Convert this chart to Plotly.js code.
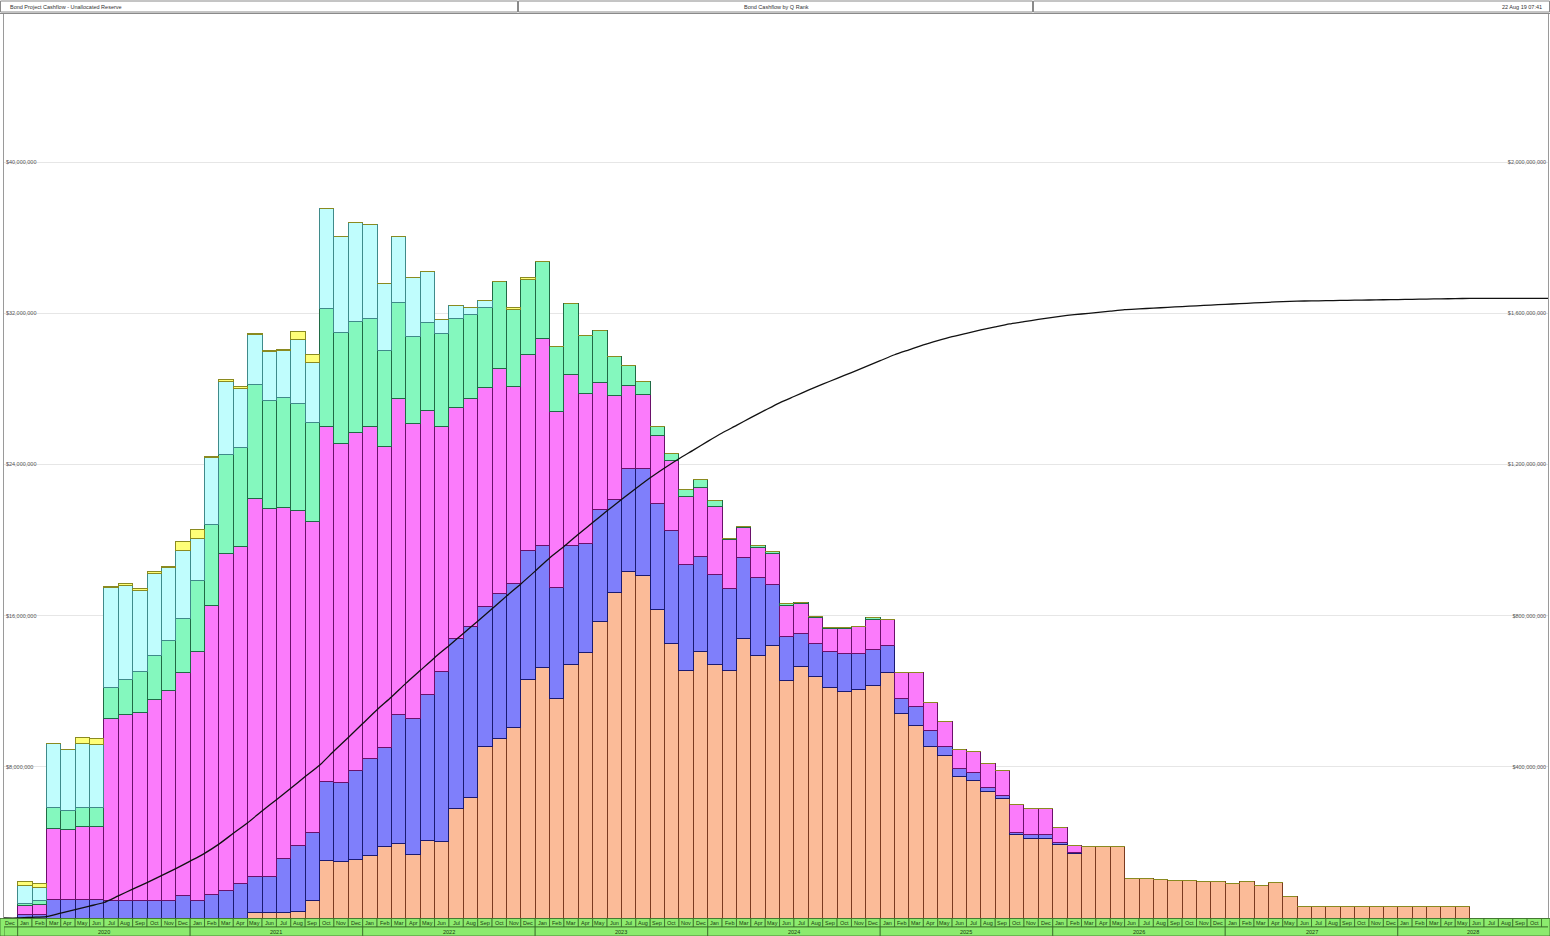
<!DOCTYPE html>
<html><head><meta charset="utf-8">
<script src="https://cdn.plot.ly/plotly-3.0.1.min.js"></script>
<style>html,body{margin:0;padding:0;background:#fff;overflow:hidden}#chart{width:1550px;height:936px;}</style>
</head><body><div id="chart"></div>
<script>
// Months: Dec 2019 (index 0) ... Nov 2028 (index 107)
const MONTH_ABBR = ["Jan","Feb","Mar","Apr","May","Jun","Jul","Aug","Sep","Oct","Nov","Dec"];
const YEARS = ["2019","2020","2021","2022","2023","2024","2025","2026","2027","2028"];
const FIRST_MONTH = 11; // Dec
const N_MONTHS = 108;

// Series values in $ millions per month (stack order bottom -> top)
const peach = [0,0,0,0,0,0,0,0,0,0,0,0,0,
 0,0,0,0,0.27,0.27,0.29,0.34,0.9,3.06,2.99,3.09,
 3.3,3.79,3.94,3.38,4.1,4.06,5.8,6.4,9.07,9.5,10.1,12.6,
 13.26,11.6,13.4,14.05,15.7,17.2,18.35,18.1,16.3,14.55,13.08,14.1,
 13.4,13.08,14.8,13.9,14.4,12.56,13.3,12.8,12.2,12.0,12.1,12.3,
 13.0,10.8,10.2,9.1,8.6,7.5,7.3,6.7,6.3,4.4,4.2,4.2,
 3.9,3.4,3.8,3.8,3.8,2.1,2.1,2.05,2.0,2.0,1.95,1.95,
 1.85,1.95,1.7,1.9,1.15,0.6,0.6,0.6,0.6,0.6,0.6,0.6,
 0.6,0.6,0.6,0.6,0.6,0,0,0,0,0,0];
const blue = [0,0.2,0.2,0.99,0.99,0.99,0.99,0.95,0.95,0.95,0.95,0.95,1.19,
 0.9,1.26,1.48,1.85,1.94,1.9,2.84,3.5,3.6,4.15,4.2,4.69,
 5.13,5.25,6.85,7.2,7.73,8.97,9.0,9.0,7.4,7.65,7.58,6.83,
 6.43,5.88,6.33,5.77,5.9,4.95,5.43,5.66,5.61,5.93,5.61,5.02,
 4.75,4.34,4.3,4.14,3.24,2.33,1.76,1.7,1.9,2.0,1.9,1.9,
 1.4,0.8,1.0,0.8,0.5,0.4,0.4,0.2,0.2,0.1,0.2,0.2,
 0.1,0.05,0,0,0,0,0,0,0,0,0,0,
 0,0,0,0,0,0,0,0,0,0,0,0,
 0,0,0,0,0,0,0,0,0,0,0];
const magenta = [0,0.48,0.53,3.76,3.67,3.84,3.84,9.6,9.8,9.9,10.6,11.1,11.8,
 13.2,15.3,17.8,17.8,20.0,19.5,18.6,17.7,16.5,18.8,17.9,17.9,
 17.6,15.9,16.7,15.6,15.0,13.0,12.2,12.1,11.6,11.9,10.45,10.4,
 10.97,9.34,9.05,7.92,6.72,5.5,4.39,3.96,3.62,3.73,3.62,3.64,
 3.62,2.6,1.58,1.58,1.67,1.65,1.6,1.4,1.2,1.3,1.4,1.6,
 1.4,1.4,1.8,1.5,1.3,1.0,1.1,1.3,1.3,1.5,1.4,1.4,
 0.8,0.4,0,0,0,0,0,0,0,0,0,0,
 0,0,0,0,0,0,0,0,0,0,0,0,
 0,0,0,0,0,0,0,0,0,0,0];
const green = [0,0.1,0.18,1.11,1.02,1.03,1.03,1.63,1.87,2.19,2.33,2.62,2.84,
 3.77,4.25,5.27,5.22,6.0,5.7,5.8,5.7,5.2,6.24,5.9,5.88,
 5.7,5.1,5.1,4.57,4.69,4.9,4.73,4.41,4.23,4.64,4.07,3.96,
 4.07,3.44,3.73,3.1,2.78,2.08,1.04,0.68,0.5,0.36,0.36,0.43,
 0.34,0.07,0.05,0.07,0.1,0.1,0.05,0.05,0.05,0.05,0.05,0.1,
 0,0,0,0,0,0,0,0,0,0,0,0,
 0,0,0,0,0,0,0,0,0,0,0,0,
 0,0,0,0,0,0,0,0,0,0,0,0,
 0,0,0,0,0,0,0,0,0,0,0];
const cyan = [0,0.92,0.71,3.39,3.25,3.35,3.3,5.3,4.96,4.3,4.37,3.86,3.64,
 2.2,3.55,3.86,3.13,2.67,2.6,2.5,3.35,3.2,5.27,5.05,5.22,
 4.96,3.52,3.45,3.13,2.67,0.73,0.7,0.41,0.38,0,0,0,
 0,0,0,0,0,0,0,0,0,0,0,0,
 0,0,0,0,0,0,0,0,0,0,0,0,
 0,0,0,0,0,0,0,0,0,0,0,0,
 0,0,0,0,0,0,0,0,0,0,0,0,
 0,0,0,0,0,0,0,0,0,0,0,0,
 0,0,0,0,0,0,0,0,0,0,0];
const yellow = [0,0.21,0.21,0,0,0.35,0.35,0.07,0.1,0.1,0.1,0.07,0.44,
 0.46,0.05,0.1,0.1,0.05,0.07,0.07,0.46,0.44,0,0,0,
 0,0,0,0,0,0,0,0,0,0,0.1,0.08,
 0,0,0,0,0,0,0,0,0,0,0,0,
 0,0,0,0,0,0,0,0,0,0,0,0,
 0,0,0,0,0,0,0,0,0,0,0,0,
 0,0,0,0,0,0,0,0,0,0,0,0,
 0,0,0,0,0,0,0,0,0,0,0,0,
 0,0,0,0,0,0,0,0,0,0,0];

const LEFT_TICKS = [8e6,16e6,24e6,32e6,40e6];
const LEFT_TICKTEXT = ["$8,000,000","$16,000,000","$24,000,000","$32,000,000","$40,000,000"];
const RIGHT_TICKS = [400e6,800e6,1200e6,1600e6,2000e6];
const RIGHT_TICKTEXT = ["$400,000,000","$800,000,000","$1,200,000,000","$1,600,000,000","$2,000,000,000"];

const HEADER_LEFT = "Bond Project Cashflow - Unallocated Reserve";
const HEADER_MID = "Bond Cashflow by Q Rank";
const HEADER_RIGHT = "22 Aug 19 07:41";

// ---- build ----
const idx = [];
for (let i = 0; i < N_MONTHS; i++) idx.push(i);
const monthLabel = idx.map(i => MONTH_ABBR[(FIRST_MONTH + i) % 12]);
const monthYear = idx.map(i => YEARS[Math.floor((FIRST_MONTH + i) / 12)]);

const series = [
  {name:"Q1", v:peach,   c:"#FBBB98", l:"#7a3a20"},
  {name:"Q2", v:blue,    c:"#7F7FFB", l:"#1a1a70"},
  {name:"Q3", v:magenta, c:"#FB7BFB", l:"#6a106a"},
  {name:"Q4", v:green,   c:"#84F8BE", l:"#1f6a45"},
  {name:"Q5", v:cyan,    c:"#C0FDFD", l:"#3f8a8a"},
  {name:"Q6", v:yellow,  c:"#FFFF78", l:"#8a8a20"}
];
const traces = series.map(s => ({
  type:"bar", name:s.name, x:idx, y:s.v.map(v => v*1e6),
  marker:{color:s.c, line:{color:s.l, width:1}}, hoverinfo:"skip"
}));

// cumulative total (end of month)
const XMIN = -0.45, XMAX = 106.95;
let cum = 0; const cx = [XMIN], cy = [0];
for (let i = 0; i < N_MONTHS; i++) {
  cum += (peach[i]+blue[i]+magenta[i]+green[i]+cyan[i]+yellow[i]) * 1e6;
  cx.push(Math.min(i + 0.5, XMAX)); cy.push(cum);
}
traces.push({type:"scatter", mode:"lines", x:cx, y:cy, yaxis:"y2",
  line:{color:"#111", width:1.3, shape:"spline", smoothing:0.6}, hoverinfo:"skip", name:"Cumulative"});

const W = 1550, H = 936, ML = 4, MR = 2, MT = 14, MB = 18;
const PW = W - ML - MR, PH = H - MT - MB;
const px2x = p => (p - ML) / PW;
const py2y = p => (H - MB - p) / PH;

const shapes = [], annotations = [];
const GREEN = "#8CEB6E", GLINE = "#3a6a2a";
// full-width background for axis rows
shapes.push({type:"rect", xref:"paper", yref:"paper", x0:px2x(0), x1:px2x(1550), y0:py2y(936), y1:py2y(918.5),
  fillcolor:GREEN, line:{color:GLINE, width:0.8}, layer:"above"});
// month row
idx.forEach(i => {
  shapes.push({type:"rect", xref:"x", yref:"paper", x0:i-0.5, x1:i+0.5, y0:py2y(927), y1:py2y(918.5),
    fillcolor:GREEN, line:{color:GLINE, width:0.8}, layer:"above"});
  annotations.push({xref:"x", yref:"paper", x:i, y:py2y(922.7), text:monthLabel[i], showarrow:false,
    font:{family:"Liberation Sans, Arial", size:5.5, color:"#1a3a10"}, xanchor:"center", yanchor:"middle"});
});
// year row
const yearSpans = {};
idx.forEach(i => { const y = monthYear[i]; if (!yearSpans[y]) yearSpans[y] = [i, i]; yearSpans[y][1] = i; });
Object.keys(yearSpans).forEach(y => {
  const a = Math.max(yearSpans[y][0] - 0.5, XMIN), b = Math.min(yearSpans[y][1] + 0.5, XMAX + 0.2);
  shapes.push({type:"rect", xref:"x", yref:"paper", x0:a, x1:b, y0:py2y(936), y1:py2y(927),
    fillcolor:GREEN, line:{color:GLINE, width:0.8}, layer:"above"});
  if (y !== "2019") annotations.push({xref:"x", yref:"paper", x:(a + Math.min(b, XMAX)) / 2, y:py2y(931.5), text:y, showarrow:false,
    font:{family:"Liberation Sans, Arial", size:5.5, color:"#1a3a10"}, xanchor:"center", yanchor:"middle"});
});
// header boxes
[[0,518],[518,1033],[1033,1550]].forEach(b => {
  shapes.push({type:"rect", xref:"paper", yref:"paper", x0:px2x(b[0]+0.5), x1:px2x(b[1]-0.5), y0:py2y(12), y1:py2y(1),
    fillcolor:"#fff", line:{color:"#8a8a8a", width:1}});
});
shapes.push({type:"line", xref:"paper", yref:"paper", x0:px2x(0), x1:px2x(1550), y0:py2y(13.5), y1:py2y(13.5), line:{color:"#8a8a8a", width:1}});
const hf = {family:"Liberation Sans, Arial", size:5.5, color:"#333"};
annotations.push({xref:"paper", yref:"paper", x:px2x(8), y:py2y(7), text:HEADER_LEFT, showarrow:false, xanchor:"left", yanchor:"middle", font:hf});
annotations.push({xref:"paper", yref:"paper", x:px2x(776), y:py2y(7), text:HEADER_MID, showarrow:false, xanchor:"center", yanchor:"middle", font:hf});
annotations.push({xref:"paper", yref:"paper", x:px2x(1544), y:py2y(7), text:HEADER_RIGHT, showarrow:false, xanchor:"right", yanchor:"middle", font:hf});

const YTOP = (H - MB - MT) / 18.9 * 1e6;
const layout = {
  width:W, height:H, margin:{l:ML, r:MR, t:MT, b:MB, pad:0},
  paper_bgcolor:"#fff", plot_bgcolor:"#fff",
  barmode:"stack", bargap:0, showlegend:false,
  font:{family:"Liberation Sans, Arial", size:6, color:"#444"},
  xaxis:{range:[XMIN, XMAX], showticklabels:false, ticks:"", showgrid:false, zeroline:false,
    showline:true, linecolor:"#9a9a9a", linewidth:1, mirror:true},
  yaxis:{range:[0, YTOP], tickvals:LEFT_TICKS, ticktext:LEFT_TICKTEXT, ticklabelposition:"inside",
    tickfont:{size:5.5, color:"#555"}, showgrid:true, gridcolor:"#e6e6e6", gridwidth:1, zeroline:false,
    showline:true, linecolor:"#9a9a9a", ticks:""},
  yaxis2:{overlaying:"y", side:"right", range:[0, YTOP*50], tickvals:RIGHT_TICKS, ticktext:RIGHT_TICKTEXT,
    ticklabelposition:"inside", tickfont:{size:5.5, color:"#555"}, showgrid:false, zeroline:false,
    showline:true, linecolor:"#9a9a9a", ticks:""},
  shapes:shapes, annotations:annotations
};
Plotly.newPlot("chart", traces, layout, {staticPlot:true, displayModeBar:false});
</script></body></html>
